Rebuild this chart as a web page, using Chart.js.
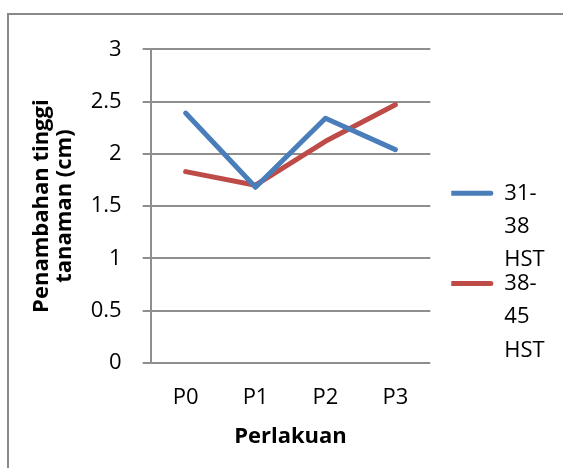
<!DOCTYPE html>
<html>
<head>
<meta charset="utf-8">
<script src="https://cdn.jsdelivr.net/npm/chart.js@4.4.1/dist/chart.umd.min.js"></script>
<style>
  body { margin: 0; background: #fff; overflow: hidden; }
  #wrap { position: relative; width: 563px; height: 468px; overflow: hidden; }
  #frame { position: absolute; left: 7px; top: 13px; width: 700px; height: 700px; border: 2px solid #898989; }
  #chart { position: absolute; left: 0; top: 0; }
</style>
</head>
<body>
<div id="wrap">
  <div id="frame"></div>
  <canvas id="chart" width="563" height="468"></canvas>
</div>
<script>
const categories = ["P0", "P1", "P2", "P3"];
const seriesNames = ["31-38 HST", "38-45 HST"];
const values3138 = [2.39, 1.68, 2.34, 2.04];
const values3845 = [1.83, 1.70, 2.12, 2.47];
const yTitle = ["Penambahan tinggi", "tanaman (cm)"];
const xTitle = "Perlakuan";

const blue = "#4a7ebb";
const red = "#be4b48";
const gridGray = "#8e8e8e";

Chart.defaults.font.family = "'Open Sans', sans-serif";
Chart.defaults.color = "#000";

// excel wraps the legend text on the hyphen and the space
function wrapLabel(text) {
  return text.split(/(?<=-)|\s/);
}

// push the legend to the right of the plot, like the original
const legendShift = {
  id: "legendShift",
  afterLayout(chart) {
    chart.legend.left += 21;
    chart.legend.right += 21;
  }
};

const ctx = document.getElementById("chart").getContext("2d");
new Chart(ctx, {
  type: "line",
  data: {
    labels: categories,
    datasets: [
      {
        label: seriesNames[0],
        data: values3138,
        borderColor: blue,
        backgroundColor: blue,
        borderWidth: 5,
        borderCapStyle: "round",
        borderJoinStyle: "round",
        pointRadius: 0,
        tension: 0
      },
      {
        label: seriesNames[1],
        data: values3845,
        borderColor: red,
        backgroundColor: red,
        borderWidth: 5,
        borderCapStyle: "round",
        borderJoinStyle: "round",
        pointRadius: 0,
        tension: 0
      }
    ]
  },
  options: {
    responsive: false,
    animation: false,
    layout: { padding: { left: 23, top: 49.3, right: 29.3, bottom: 14.3 } },
    scales: {
      x: {
        offset: true,
        grid: { display: false, drawTicks: false, tickLength: 0 },
        border: { display: false },
        ticks: { font: { size: 22 }, padding: 22 },
        title: {
          display: true,
          text: xTitle,
          font: { size: 22, weight: "bold", lineHeight: 1.2 },
          padding: { top: -10, bottom: 4 }
        }
      },
      y: {
        min: 0,
        max: 3,
        grid: { color: gridGray, lineWidth: 2, tickLength: 8 },
        border: { display: true, color: gridGray, width: 2 },
        ticks: {
          stepSize: 0.5,
          font: { size: 22 },
          padding: 21,
          callback: value => String(value)
        },
        title: {
          display: true,
          text: yTitle,
          font: { size: 22, weight: "bold", lineHeight: 1.05 },
          padding: { top: 7, bottom: 10 }
        }
      }
    },
    plugins: {
      tooltip: { enabled: false },
      legend: {
        position: "right",
        align: "end",
        fullSize: false,
        labels: {
          boxWidth: 52,
          boxHeight: 5,
          padding: -10,
          font: { size: 22, lineHeight: 1.52 },
          generateLabels(chart) {
            return chart.data.datasets.map((ds, i) => ({
              text: wrapLabel(ds.label),
              fillStyle: ds.borderColor,
              strokeStyle: ds.borderColor,
              lineWidth: 0,
              borderRadius: 2.5,
              datasetIndex: i,
              hidden: false
            }));
          }
        }
      }
    }
  },
  plugins: [legendShift]
});
</script>
</body>
</html>
